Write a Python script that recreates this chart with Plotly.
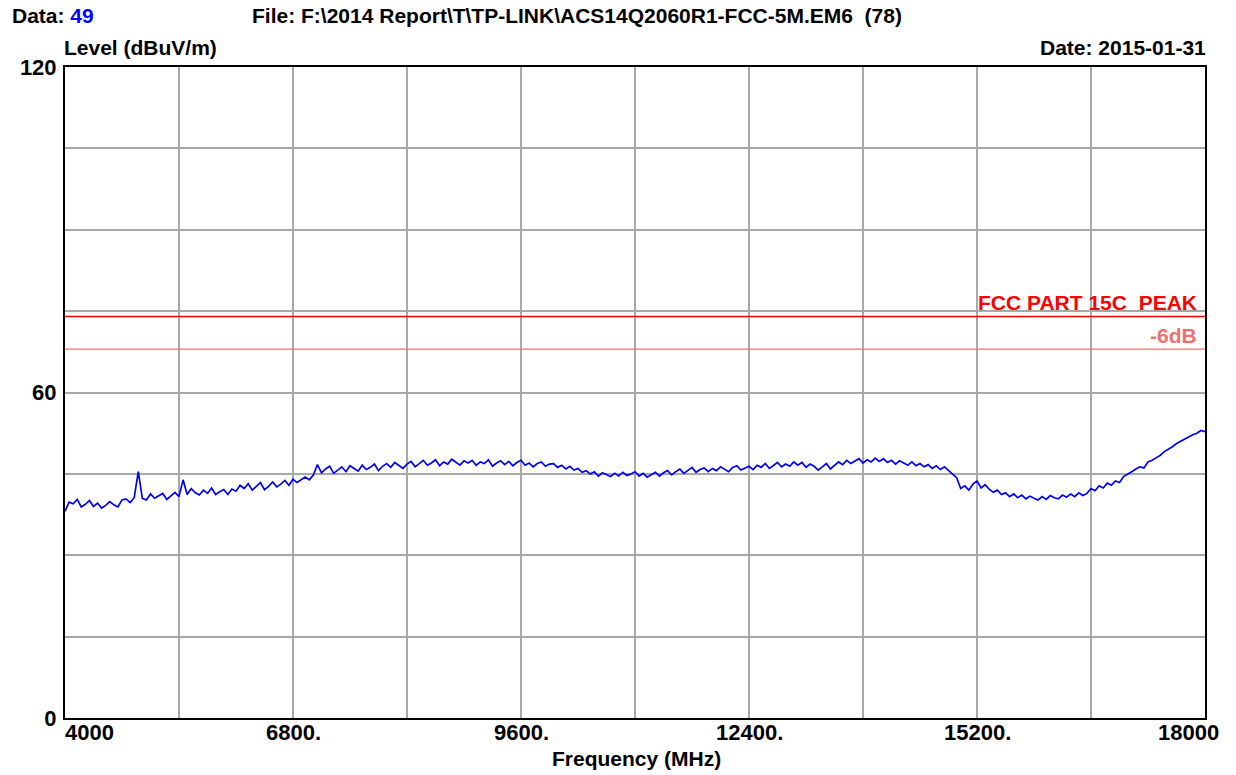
import plotly.graph_objects as go

# ---- data ----
freq_start = 4000
freq_step = 50
level = [
    38.1, 39.8, 39.5, 40.3, 38.9, 39.4, 40.1, 39.0, 39.6, 38.7, 39.2, 39.9, 39.3, 38.9, 40.2, 40.4, 39.7, 40.6, 45.4, 40.5,
    40.2, 41.3, 40.5, 40.9, 41.4, 40.3, 41.0, 41.6, 40.8, 43.9, 41.2, 42.3, 41.5, 41.1, 42.0, 41.4, 42.4, 41.2, 41.7, 42.1,
    41.2, 42.2, 41.8, 42.9, 42.3, 43.2, 42.0, 42.8, 43.4, 42.1, 42.7, 43.5, 42.6, 43.1, 43.8, 42.9, 44.0, 43.4, 43.9, 44.4,
    43.9, 44.8, 46.7, 45.2, 45.9, 46.4, 45.1, 45.7, 46.3, 45.4, 46.5, 46.0, 45.5, 46.6, 45.8, 46.2, 46.8, 45.6, 46.4, 46.9,
    46.2, 47.1, 46.5, 46.0, 46.8, 47.3, 46.3, 46.9, 47.5, 46.6, 47.0, 47.6, 46.5, 47.2, 46.8, 47.7, 47.1, 46.6, 47.4, 47.0,
    47.5, 46.6, 47.2, 46.9, 47.6, 46.4, 47.0, 47.4, 46.7, 47.3, 46.5, 47.1, 47.5, 46.6, 47.0, 46.3, 46.9, 47.2, 46.4, 46.8,
    46.9, 46.2, 46.6, 45.9, 46.4, 45.7, 46.0, 45.3, 45.6, 45.0, 45.4, 44.6, 45.2, 44.8, 44.5, 45.1, 44.6, 45.3, 44.7, 45.0,
    45.4, 44.6, 45.1, 44.4, 44.9, 45.3, 44.6, 45.2, 45.6, 44.8, 45.4, 45.9, 45.1, 45.7, 46.2, 45.3, 45.8, 46.1, 45.4, 46.0,
    45.6, 46.3, 45.9, 45.4, 46.2, 46.5, 45.7, 46.1, 46.4, 45.8, 46.6, 46.2, 46.9, 46.0, 46.5, 47.1, 46.3, 46.8, 46.4, 47.2,
    46.6, 47.1, 46.2, 46.8, 46.4, 45.7, 46.3, 46.9, 45.9, 46.6, 47.2, 46.7, 47.5, 46.9, 47.3, 47.8, 47.0, 47.6, 47.2, 47.9,
    47.3, 47.8, 47.1, 47.5, 46.8, 47.4, 47.0, 46.6, 47.2, 46.5, 46.9, 46.3, 46.7, 46.0, 46.5, 45.8, 46.3, 45.6, 44.9, 44.3,
    42.3, 42.8, 42.0, 43.1, 43.7, 42.4, 43.0, 42.2, 41.6, 42.0, 41.2, 41.5, 40.8, 41.3, 40.6, 41.1, 40.4, 40.9, 40.5, 40.2,
    40.8, 40.3, 41.0, 40.6, 40.4, 41.1, 40.7, 41.3, 40.8, 41.5, 41.0, 41.4, 42.3, 41.9, 42.8, 42.4, 43.3, 42.9, 43.7, 43.4,
    44.5, 44.9, 45.4, 45.9, 46.3, 46.1, 47.2, 47.5, 48.0, 48.4, 49.1, 49.5, 50.0, 50.6, 51.0, 51.4, 51.9, 52.2, 52.5, 53.0,
    52.8,
]
freq = [freq_start + i * freq_step for i in range(len(level))]

limit_peak = 74
limit_margin = 68

x_ticks = [4000, 5400, 6800, 8200, 9600, 11000, 12400, 13800, 15200, 16600, 18000]
x_labels = ["4000", "", "6800.", "", "9600.", "", "12400.", "", "15200.", "", "18000"]
y_ticks = [0, 15, 30, 45, 60, 75, 90, 105, 120]
y_labels = ["0", "", "", "", "60", "", "", "", "120"]

FONT = "Liberation Sans Narrow, Arial Narrow, Liberation Sans, Arial, sans-serif"
FS = 21
TICK_FS = 22

fig = go.Figure()
fig.add_trace(go.Scatter(x=freq, y=level, mode="lines",
                         line=dict(color="#0000ff", width=1.7), hoverinfo="skip"))
fig.add_trace(go.Scatter(x=[x_ticks[0], x_ticks[-1]], y=[limit_peak, limit_peak], mode="lines",
                         line=dict(color="#ff0000", width=1.6), hoverinfo="skip"))
fig.add_trace(go.Scatter(x=[x_ticks[0], x_ticks[-1]], y=[limit_margin, limit_margin], mode="lines",
                         line=dict(color="#f07070", width=1.4), hoverinfo="skip"))

fig.update_layout(
    width=1236, height=775,
    margin=dict(l=65, r=31, t=67, b=57),
    paper_bgcolor="white", plot_bgcolor="white",
    showlegend=False,
    font=dict(family=FONT, size=FS, color="black"),
    xaxis=dict(range=[4000, 18000], tickvals=x_ticks, ticktext=[""] * len(x_ticks),
               showgrid=True, gridcolor="#a8a8a8", gridwidth=1.5,
               showline=True, linecolor="black", linewidth=2, mirror=True,
               ticks="", zeroline=False, fixedrange=True),
    yaxis=dict(range=[0, 120], tickvals=y_ticks, ticktext=[f"<b>{t}</b>" if t else "" for t in y_labels],
               showgrid=True, gridcolor="#a8a8a8", gridwidth=1.5,
               showline=True, linecolor="black", linewidth=2, mirror=True,
               ticks="", zeroline=False, fixedrange=True,
               tickfont=dict(family=FONT, size=TICK_FS, color="black"), ticklabelstandoff=2),
)

anchors = ["left"] + ["center"] * (len(x_ticks) - 2) + ["right"]
shifts = [-2] + [0] * (len(x_ticks) - 2) + [16]
for v, t, a, s in zip(x_ticks, x_labels, anchors, shifts):
    if t:
        fig.add_annotation(x=v, y=0, xref="x", yref="paper", text=f"<b>{t}</b>",
                           showarrow=False, xanchor=a, yanchor="top", yshift=0, xshift=s,
                           font=dict(family=FONT, size=TICK_FS, color="black"))

# positions given in page pixels of the target picture
plot_l, plot_r, plot_t, plot_b = 65, 1205, 67, 718
def pp(xp, yp, text, anchor="left", color="black", size=FS):
    fig.add_annotation(x=(xp - plot_l) / (plot_r - plot_l), y=(plot_b - yp) / (plot_b - plot_t),
                       xref="paper", yref="paper", text=text, showarrow=False,
                       xanchor=anchor, yanchor="middle",
                       font=dict(family=FONT, size=size, color=color))

pp(10, 15.5, "<b>Data: <span style='color:#0000ff'>49</span></b>")
pp(250, 15.5, "<b>File: F:\\2014 Report\\T\\TP-LINK\\ACS14Q2060R1-FCC-5M.EM6  (78)</b>")
pp(62, 47, "<b>Level (dBuV/m)</b>")
pp(1208, 47, "<b>Date: 2015-01-31</b>", anchor="right")
pp(636, 758, "<b>Frequency (MHz)</b>", anchor="center")
pp(1199, 302, "<b>FCC PART 15C  PEAK</b>", anchor="right", color="#ff0000")
pp(1199, 336, "<b>-6dB</b>", anchor="right", color="#f07070")

# remove the default 8px page margin so the figure fills the window exactly
fig.write_html("out.html", config={"displayModeBar": False},
               post_script="document.body.style.margin='0px';")
